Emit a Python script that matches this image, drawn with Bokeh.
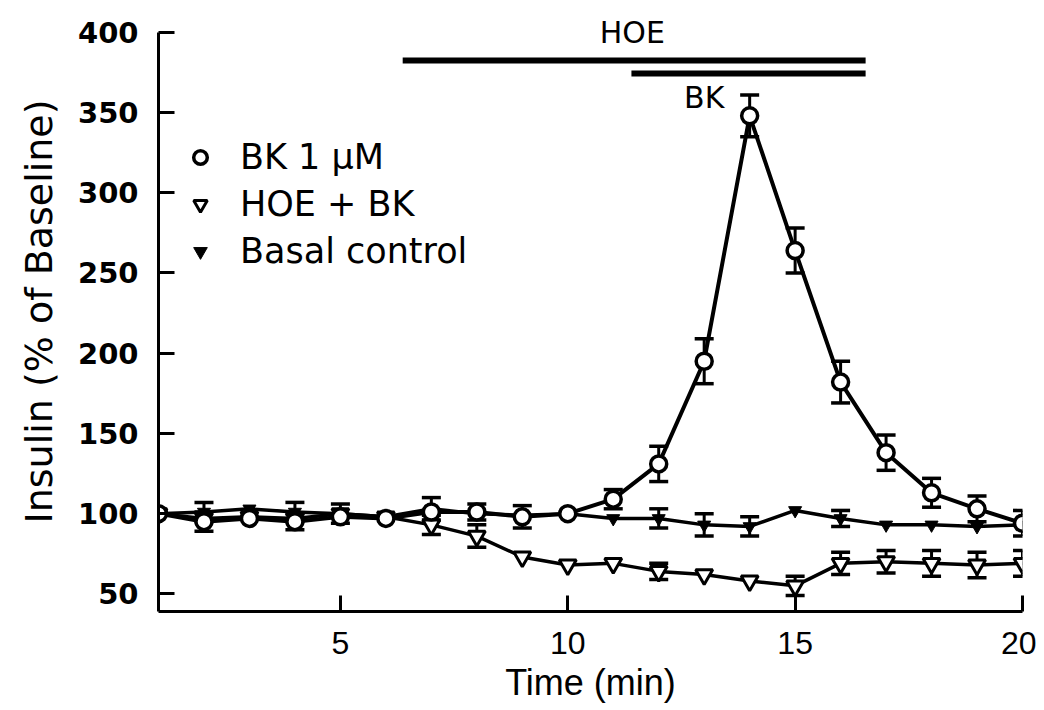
from bokeh.plotting import figure
from bokeh.models import (ColumnDataSource, Whisker, TeeHead, Legend, LegendItem,
                          FixedTicker, Range1d, Label)
from bokeh.embed import file_html
from bokeh.resources import INLINE

# ---- data ----
time = list(range(1, 21))
bk = [100, 95, 97, 95, 98, 97, 101, 101, 98, 100, 109, 131, 195, 348, 264, 182, 138, 113, 103, 94]
bk_err = [0, 6, 0, 5, 0, 0, 0, 5, 7, 0, 6, 11, 14, 13, 14, 13, 11, 9, 8, 8]
hoe = [100, 97, 98, 97, 100, 98, 93, 86, 73, 68, 69, 64, 62, 58, 55, 69, 70, 69, 68, 69]
hoe_err = [0, 0, 0, 0, 0, 0, 6, 7, 0, 0, 0, 5, 0, 0, 6, 7, 7, 8, 8, 8]
basal = [100, 101, 103, 101, 100, 98, 103, 100, 99, 100, 97, 97, 93, 92, 102, 97, 93, 93, 92, 93]
basal_err = [0, 6, 0, 6, 6, 0, 7, 0, 0, 0, 0, 6, 7, 6, 0, 5, 0, 0, 0, 0]

x_ticks = [5, 10, 15, 20]
y_ticks = [50, 100, 150, 200, 250, 300, 350, 400]
y_axis_span = (39, 400)

# treatment periods (min) and bar levels
hoe_period = [6.37, 16.55]
bk_period = [11.4, 16.55]
hoe_bar_level = 382.5
bk_bar_level = 374.4

FONT = "DejaVu Sans"

p = figure(width=1036, height=708, output_backend="svg", toolbar_location=None,
           x_range=Range1d(1, 20), y_range=Range1d(39, 413),
           min_border_left=158, min_border_right=14, min_border_top=11, min_border_bottom=97)
p.outline_line_color = None
p.grid.visible = False
p.background_fill_color = "white"

def whisk(x, y, e):
    rows = [(xi, yi - ei, yi + ei) for xi, yi, ei in zip(x, y, e) if ei > 0]
    src = ColumnDataSource(dict(x=[r[0] for r in rows], lo=[r[1] for r in rows], hi=[r[2] for r in rows]))
    w = Whisker(base="x", lower="lo", upper="hi", source=src, level="underlay",
                line_width=3, line_color="black",
                upper_head=TeeHead(size=19, line_width=3.5, line_color="black"),
                lower_head=TeeHead(size=19, line_width=3.5, line_color="black"))
    p.add_layout(w)

whisk(time, bk, bk_err)
whisk(time, hoe, hoe_err)
whisk(time, basal, basal_err)

p.line(time, basal, line_width=3.5, line_color="black")
p.line(time, hoe, line_width=3.5, line_color="black")
p.line(time, bk, line_width=4, line_color="black")

r_basal = p.scatter(time, basal, marker="inverted_triangle", size=13,
                    fill_color="black", line_color="black", line_width=1)
r_hoe = p.scatter(time, hoe, marker="inverted_triangle", size=17,
                  fill_color="white", line_color="black", line_width=3)
r_bk = p.scatter(time, bk, marker="circle", size=16,
                 fill_color="white", line_color="black", line_width=3.5)

# treatment bars
p.segment(x0=[hoe_period[0]], x1=[hoe_period[1]], y0=[hoe_bar_level], y1=[hoe_bar_level],
          line_width=6, line_color="black")
p.segment(x0=[bk_period[0]], x1=[bk_period[1]], y0=[bk_bar_level], y1=[bk_bar_level],
          line_width=6, line_color="black")
p.add_layout(Label(x=11.42, y=400, text="HOE", text_font=FONT, text_font_size="30px",
                   text_color="black", text_align="center", text_baseline="middle"))
p.add_layout(Label(x=13.0, y=359.4, text="BK", text_font=FONT, text_font_size="30px",
                   text_color="black", text_align="center", text_baseline="middle"))

# axes
for ax in (p.xaxis, p.yaxis):
    ax.axis_line_width = 3
    ax.major_tick_line_width = 3
    ax.major_tick_in = 16
    ax.major_tick_out = 0
    ax.minor_tick_line_color = None
    ax.axis_label_text_font_style = "normal"
    ax.major_label_text_color = "black"
    ax.axis_label_text_color = "black"

p.yaxis.bounds = y_axis_span
p.xaxis.ticker = FixedTicker(ticks=x_ticks)
p.yaxis.ticker = FixedTicker(ticks=y_ticks)
p.xaxis.major_label_text_font = "Liberation Sans"
p.xaxis.major_label_text_font_size = "32px"
p.xaxis.major_label_standoff = 20
p.xaxis.axis_label = "Time (min)"
p.xaxis.axis_label_text_font = "Liberation Sans"
p.xaxis.axis_label_text_font_size = "36px"
p.xaxis.axis_label_standoff = 5

p.yaxis.major_label_text_font = FONT
p.yaxis.major_label_text_font_style = "bold"
p.yaxis.major_label_text_font_size = "29px"
p.yaxis.major_label_standoff = 20
p.yaxis.axis_label = "Insulin (% of Baseline)"
p.yaxis.axis_label_text_font = FONT
p.yaxis.axis_label_text_font_size = "38px"
p.yaxis.axis_label_standoff = 14

legend = Legend(items=[LegendItem(label="BK 1 μM", renderers=[r_bk]),
                       LegendItem(label="HOE + BK", renderers=[r_hoe]),
                       LegendItem(label="Basal control", renderers=[r_basal])],
                location=(25, 340), border_line_color=None, background_fill_alpha=0,
                padding=0, margin=0, spacing=7, glyph_width=34, glyph_height=36,
                label_height=36, label_standoff=23, label_text_color="black",
                label_text_font=FONT, label_text_font_size="35px")
p.add_layout(legend)

open("out.html", "w").write(file_html(p, INLINE))
